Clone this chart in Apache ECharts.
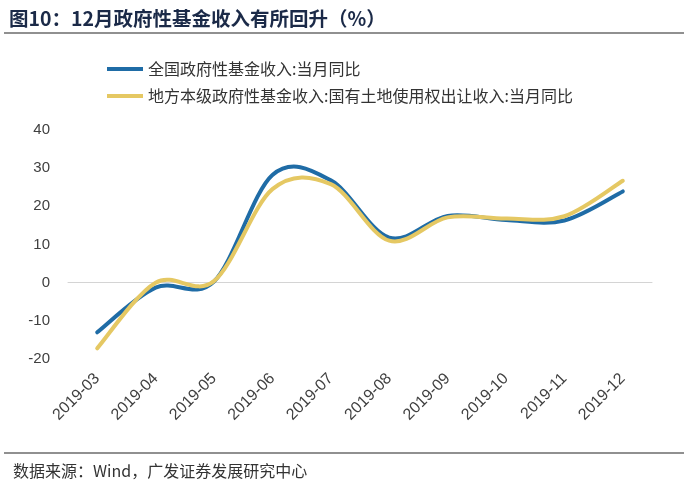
<!DOCTYPE html>
<html><head><meta charset="utf-8">
<script src="https://cdn.jsdelivr.net/npm/echarts@6/dist/echarts.min.js"></script>
<style>html,body{margin:0;padding:0;background:#fff}#c{width:687px;height:482px}</style>
</head><body><div id="c"></div>
<script>
const categories = ['2019-03','2019-04','2019-05','2019-06','2019-07','2019-08','2019-09','2019-10','2019-11','2019-12'];
const seriesNames = ['全国政府性基金收入:当月同比','地方本级政府性基金收入:国有土地使用权出让收入:当月同比'];
const nationalFund = [-13, -1.3, 0.3, 28.2, 26.8, 11.8, 17.5, 16.4, 16.3, 23.9];
const landSales = [-17.2, 0.0, 0.4, 24.5, 25.8, 11.0, 17.1, 16.8, 17.4, 26.7];
const yTicks = {min: -20, max: 40, interval: 10};
const colors = ['#1f6ca6', '#e5c863'];

// smooth curve (Catmull-Rom style) through points located by the chart's own scales
function smoothSeries(name, values, color, z) {
  return {
    name: name, type: 'custom', z: z,
    data: values.map((v, i) => [i, v]),
    encode: {x: 0, y: 1},
    itemStyle: {color: color},
    renderItem: function (params, api) {
      if (params.dataIndex !== 0) return null;
      const p = values.map((v, i) => api.coord([i, v]));
      const n = p.length;
      const at = k => p[Math.max(0, Math.min(n - 1, k))];
      let d = 'M' + p[0][0] + ' ' + p[0][1];
      for (let i = 0; i < n - 1; i++) {
        const p0 = at(i - 1), p1 = at(i), p2 = at(i + 1), p3 = at(i + 2);
        const c1x = p1[0] + (p2[0] - p0[0]) / 6, c1y = p1[1] + (p2[1] - p0[1]) / 6;
        const c2x = p2[0] - (p3[0] - p1[0]) / 6, c2y = p2[1] - (p3[1] - p1[1]) / 6;
        d += ' C' + c1x + ' ' + c1y + ' ' + c2x + ' ' + c2y + ' ' + p2[0] + ' ' + p2[1];
      }
      return {type: 'path', shape: {pathData: d},
              style: {stroke: color, lineWidth: 4, fill: null, lineCap: 'round', lineJoin: 'round'}};
    }
  };
}

const chart = echarts.init(document.getElementById('c'));
chart.setOption({
  animation: false,
  backgroundColor: '#fff',
  title: [
    {text: '图10：12月政府性基金收入有所回升（%）', left: 4, top: 4,
     textStyle: {fontFamily: 'Noto Sans CJK SC', fontSize: 19.5, fontWeight: 'bold', color: '#1b2a48'}},
    {text: '数据来源：Wind，广发证券发展研究中心', left: 8, top: 458,
     textStyle: {fontFamily: 'Noto Sans CJK SC', fontSize: 16, fontWeight: 'normal', color: '#333'}}
  ],
  graphic: [
    {type: 'line', shape: {x1: 4, y1: 33, x2: 684, y2: 33}, style: {stroke: '#222', lineWidth: 1.2}},
    {type: 'line', shape: {x1: 4, y1: 453, x2: 684, y2: 453}, style: {stroke: '#222', lineWidth: 1.2}}
  ],
  legend: {
    orient: 'vertical', left: 102, top: 56, itemGap: 11,
    itemWidth: 36, itemHeight: 4, icon: 'rect',
    textStyle: {fontFamily: 'Noto Sans CJK SC', fontSize: 16, color: '#333'},
    data: seriesNames
  },
  grid: {left: 68, right: 35, top: 130, bottom: 123},
  xAxis: {
    type: 'category', data: categories, boundaryGap: true,
    axisLine: {onZero: true, lineStyle: {color: '#d4d4d4', width: 1}},
    axisTick: {show: false},
    axisLabel: {rotate: 45, color: '#404040', fontFamily: 'Liberation Sans', fontSize: 16, interval: 0, margin: 17}
  },
  yAxis: {
    type: 'value', min: yTicks.min, max: yTicks.max, interval: yTicks.interval,
    axisLine: {show: false}, axisTick: {show: false}, splitLine: {show: false},
    axisLabel: {color: '#404040', fontFamily: 'Liberation Sans', fontSize: 15, margin: 18}
  },
  series: [
    smoothSeries(seriesNames[0], nationalFund, colors[0], 2),
    smoothSeries(seriesNames[1], landSales, colors[1], 3)
  ]
});
</script></body></html>
